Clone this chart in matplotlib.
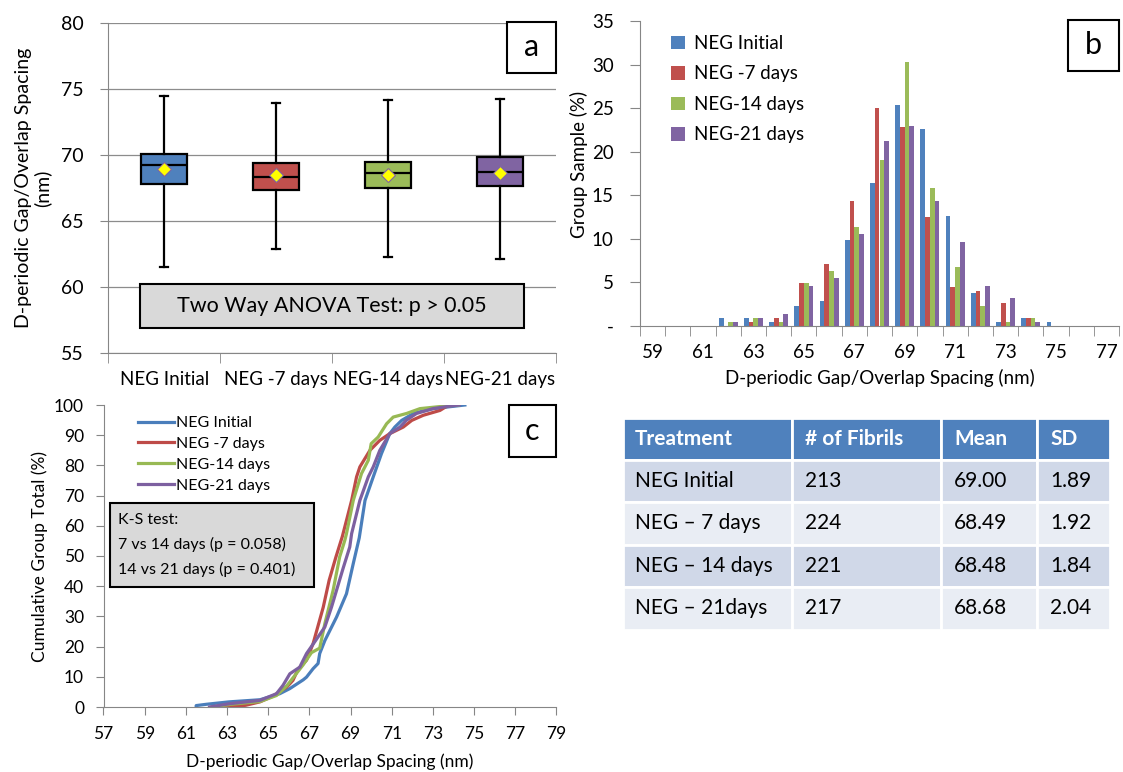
import matplotlib
matplotlib.use("Agg")
import matplotlib.pyplot as plt
from matplotlib.patches import Rectangle
from matplotlib.ticker import FuncFormatter

plt.rcParams['font.family'] = ['Lato', 'DejaVu Sans']

W, H = 1123, 772

groups = ["NEG Initial", "NEG -7 days", "NEG-14 days", "NEG-21 days"]
bar_colors = ["#4F81BD", "#C0504D", "#9BBB59", "#8064A2"]
line_colors = ["#4A7EBB", "#BE4B48", "#98B954", "#7D60A0"]

# panel a: box plot summary (nm)
box_whislo = [61.54, 62.90, 62.27, 62.15]
box_q1 = [67.83, 67.40, 67.50, 67.70]
box_med = [69.24, 68.33, 68.66, 68.74]
box_q3 = [70.13, 69.42, 69.49, 69.90]
box_whishi = [74.52, 73.94, 74.22, 74.27]
box_mean = [69.00, 68.49, 68.48, 68.68]

# panel b: percent of each group per 1 nm bin
bins = list(range(59, 78))
hist_initial = [0, 0, 0, 0.94, 0.94, 0.47, 2.35, 2.82, 9.86, 16.4, 25.4, 22.6, 12.6, 3.76, 0.47, 0.94, 0.47, 0, 0]
hist_7d = [0, 0, 0, 0, 0.45, 0.89, 4.91, 7.14, 14.29, 25.0, 22.8, 12.5, 4.46, 4.02, 2.68, 0.89, 0, 0, 0]
hist_14d = [0, 0, 0, 0.45, 0.90, 0.45, 4.98, 6.33, 11.31, 19.0, 30.3, 15.8, 6.79, 2.26, 0.45, 0.90, 0, 0, 0]
hist_21d = [0, 0, 0, 0.46, 0.92, 1.38, 4.61, 5.53, 10.6, 21.2, 23.0, 14.3, 9.68, 4.61, 3.23, 0.46, 0, 0, 0]

# panel c: cumulative distributions (nm, %)
cdf_initial_x = [61.5, 61.5, 62.0, 63.1, 64.6, 65.56, 66.05, 66.7, 66.86, 67.18, 67.42, 67.5, 67.75, 68.32, 68.8,
                 69.13, 69.42, 69.7, 70.1, 70.5, 70.9, 71.15, 71.48, 72.05, 73.0, 74.55]
cdf_initial_y = [0.0, 0.47, 0.9, 1.7, 2.4, 4.4, 6.1, 9.0, 9.9, 12.7, 14.4, 17.7, 22.0, 29.8, 37.5,
                 47.5, 56.0, 68.4, 76.2, 83.9, 90.5, 92.7, 94.9, 97.2, 98.8, 100]
cdf_7d_x = [62.9, 63.9, 64.6, 65.2, 65.9, 66.2, 66.45, 66.86, 67.18, 67.67, 67.96, 68.28, 68.6, 69.05, 69.29,
            69.45, 69.94, 70.42, 70.9, 71.56, 71.97, 72.53, 73.34, 73.67, 73.94]
cdf_7d_y = [0.0, 0.56, 1.7, 3.5, 6.6, 8.8, 12.5, 15.5, 21.0, 33.0, 42.0, 49.5, 56.5, 68.4, 76.2,
            79.5, 85.0, 88.3, 90.5, 92.7, 94.9, 96.6, 98.2, 99.6, 100]
cdf_14d_x = [62.27, 63.2, 64.6, 65.4, 65.9, 66.3, 66.7, 67.1, 67.5, 67.75, 68.15, 68.47, 68.72, 68.8, 69.13,
             69.53, 69.86, 70.0, 70.34, 70.75, 71.07, 71.72, 72.37, 73.5, 74.22]
cdf_14d_y = [0.0, 0.9, 1.8, 3.8, 7.0, 10.5, 14.0, 18.0, 19.5, 27.6, 38.6, 49.7, 55.2, 57.4, 68.4,
             77.3, 81.7, 87.2, 89.4, 93.8, 96.0, 97.2, 98.8, 99.6, 100]
cdf_21d_x = [62.15, 63.13, 64.6, 65.4, 65.72, 66.05, 66.53, 66.86, 67.3, 67.75, 68.07, 68.64, 68.96, 69.05,
             69.45, 69.86, 70.1, 70.42, 70.9, 71.4, 71.7, 72.2, 73.0, 73.8, 74.27]
cdf_21d_y = [0.0, 1.1, 2.2, 4.4, 7.2, 11.0, 13.2, 17.7, 22.0, 26.5, 33.0, 46.0, 53.0, 57.4,
             68.4, 76.2, 79.5, 85.0, 90.5, 92.7, 94.9, 97.2, 98.8, 99.6, 100]

# table
table_header = ["Treatment", "# of Fibrils", "Mean", "SD"]
table_treat = ["NEG Initial", "NEG \u2013 7 days", "NEG \u2013 14 days", "NEG \u2013 21days"]
table_n = ["213", "224", "221", "217"]
table_mean = ["69.00", "68.49", "68.48", "68.68"]
table_sd = ["1.89", "1.92", "1.84", "2.04"]

GRAY = "#868686"


def axes_rect(x0, y0, x1, y1):
    return [x0 / W, 1 - y1 / H, (x1 - x0) / W, (y1 - y0) / H]


fig = plt.figure(figsize=(W / 100, H / 100), dpi=100)

# ---------------- panel a ----------------
ax_a = fig.add_axes(axes_rect(108.4, 23.3, 556, 353.3))
stats = []
for i in range(4):
    stats.append(dict(med=box_med[i], q1=box_q1[i], q3=box_q3[i], whislo=box_whislo[i],
                      whishi=box_whishi[i], mean=box_mean[i], fliers=[]))
bp = ax_a.bxp(stats, positions=range(4), widths=0.41, patch_artist=True, showmeans=True, capwidths=0.07,
              boxprops=dict(linewidth=1.6, edgecolor="black"),
              medianprops=dict(color="black", linewidth=1.6),
              whiskerprops=dict(color="black", linewidth=1.6),
              capprops=dict(color="black", linewidth=1.6),
              meanprops=dict(marker="D", markerfacecolor="#FFFF00", markeredgecolor="#8064A2",
                             markersize=7.5, markeredgewidth=0.8))
for patch, c in zip(bp["boxes"], bar_colors):
    patch.set_facecolor(c)
ax_a.set_xlim(-0.5, 3.5)
ax_a.set_ylim(55, 80)
ax_a.set_yticks(range(55, 81, 5))
ax_a.grid(axis="y", color="#8c8c8c", linewidth=0.9)
ax_a.set_axisbelow(True)
ax_a.set_xticks(range(4))
ax_a.set_xticklabels(groups)
ax_a.set_xticks([-0.5, 0.5, 1.5, 2.5, 3.5], minor=True)
ax_a.tick_params(axis="x", which="major", length=0, pad=13, labelsize=13.5)
ax_a.tick_params(axis="x", which="minor", length=7, color=GRAY, direction="out")
ax_a.tick_params(axis="y", length=6, color=GRAY, pad=12, labelsize=14)
for s in ["top", "right"]:
    ax_a.spines[s].set_visible(False)
for s in ["left", "bottom"]:
    ax_a.spines[s].set_color(GRAY)
ax_a.set_ylabel("D-periodic Gap/Overlap Spacing\n(nm)", fontsize=14, va="center", linespacing=1.15)
ax_a.yaxis.set_label_coords(-0.168, 0.5)

# ---------------- panel b ----------------
ax_b = fig.add_axes(axes_rect(640, 21, 1119, 326))
pos = list(range(len(bins)))
bw = 0.187
series_b = [hist_initial, hist_7d, hist_14d, hist_21d]
for k, (vals, c, lab) in enumerate(zip(series_b, bar_colors, groups)):
    ax_b.bar([p + (k - 1.5) * bw for p in pos], vals, width=bw, color=c, label=lab)
ax_b.set_xlim(-0.5, len(bins) - 0.5)
ax_b.set_ylim(0, 35)
ax_b.set_yticks(range(0, 36, 5))
ax_b.yaxis.set_major_formatter(FuncFormatter(lambda v, p: "-" if v == 0 else f"{v:.0f}"))
ax_b.set_xticks(pos[::2])
ax_b.set_xticklabels([str(b) for b in bins[::2]])
ax_b.set_xticks([p - 0.5 for p in pos] + [pos[-1] + 0.5], minor=True)
ax_b.tick_params(axis="x", which="major", length=0, pad=13, labelsize=13.5)
ax_b.tick_params(axis="x", which="minor", length=7, color=GRAY, direction="out")
ax_b.tick_params(axis="y", length=7, color=GRAY, pad=12, labelsize=13.5)
for s in ["top", "right"]:
    ax_b.spines[s].set_visible(False)
for s in ["left", "bottom"]:
    ax_b.spines[s].set_color(GRAY)
ax_b.set_ylabel("Group Sample (%)", fontsize=13.5, va="center")
ax_b.yaxis.set_label_coords(-0.128, 0.53)
ax_b.set_xlabel("D-periodic Gap/Overlap Spacing (nm)", fontsize=13.5, va="center")
ax_b.xaxis.set_label_coords(0.5, -0.17)
ax_b.legend(loc="upper left", bbox_to_anchor=(0.045, 0.985), frameon=False, fontsize=13.5,
            handlelength=0.75, handleheight=0.75, handletextpad=0.5, labelspacing=0.72, borderpad=0)

# ---------------- panel c ----------------
ax_c = fig.add_axes(axes_rect(103.5, 405, 556.5, 707))
cdf_series = [(cdf_initial_x, cdf_initial_y), (cdf_7d_x, cdf_7d_y), (cdf_14d_x, cdf_14d_y), (cdf_21d_x, cdf_21d_y)]
for (xs, ys), c, lab in zip(cdf_series, line_colors, groups):
    ax_c.plot(xs, ys, color=c, linewidth=2.3, label=lab)
ax_c.set_xlim(57, 79)
ax_c.set_ylim(0, 100)
ax_c.set_xticks(range(57, 80, 2))
ax_c.set_yticks(range(0, 101, 10))
ax_c.tick_params(axis="both", length=6, color=GRAY, labelsize=12.5)
ax_c.tick_params(axis="x", pad=8)
ax_c.tick_params(axis="y", pad=8)
for s in ["top", "right"]:
    ax_c.spines[s].set_visible(False)
for s in ["left", "bottom"]:
    ax_c.spines[s].set_color(GRAY)
ax_c.set_ylabel("Cumulative Group Total (%)", fontsize=12.5, va="center")
ax_c.yaxis.set_label_coords(-0.14, 0.5)
ax_c.set_xlabel("D-periodic Gap/Overlap Spacing (nm)", fontsize=12.5, va="center")
ax_c.xaxis.set_label_coords(0.5, -0.182)
ax_c.legend(loc="upper left", bbox_to_anchor=(0.058, 0.99), frameon=False, fontsize=11.5,
            handlelength=2.3, handletextpad=0.1, labelspacing=0.42, borderpad=0)

# ---------------- overlay: labels, text boxes, table ----------------
ov = fig.add_axes([0, 0, 1, 1], zorder=10)
ov.set_xlim(0, W)
ov.set_ylim(H, 0)
ov.axis("off")
ov.patch.set_alpha(0)


def text_box(x0, y0, x1, y1, fc):
    ov.add_patch(Rectangle((x0, y0), x1 - x0, y1 - y0, facecolor=fc, edgecolor="black", linewidth=1.5))


for (x0, y0, x1, y1), letter in [((507, 22, 555.5, 73), "a"), ((1068, 20, 1118.5, 70.5), "b"),
                                 ((508.5, 405, 556, 456.5), "c")]:
    text_box(x0, y0, x1, y1, "white")
    ov.text((x0 + x1) / 2, (y0 + y1) / 2, letter, fontsize=22, ha="center", va="center")

text_box(140, 284, 523.5, 328.3, "#D9D9D9")
ov.text(331.8, 306.5, "Two Way ANOVA Test: p > 0.05", fontsize=15.5, ha="center", va="center")

text_box(110.4, 503.3, 314, 586.7, "#D9D9D9")
for yy, t in zip([520, 544.5, 569], ["K-S test:", "7 vs 14 days (p = 0.058)", "14 vs 21 days (p = 0.401)"]):
    ov.text(117.5, yy, t, fontsize=11.5, ha="left", va="center")

col_edges = [622.7, 791.7, 940.7, 1036.7, 1110]
row_edges = [418, 459.7, 502, 544.5, 587, 629.5]
text_x = [635, 805, 954, 1050]
table_rows = [table_header] + [list(r) for r in zip(table_treat, table_n, table_mean, table_sd)]
row_fills = ["#4F81BD", "#D0D8E8", "#E9EDF4", "#D0D8E8", "#E9EDF4"]
for r, row in enumerate(table_rows):
    y0, y1 = row_edges[r], row_edges[r + 1]
    for ci, val in enumerate(row):
        x0, x1 = col_edges[ci], col_edges[ci + 1]
        ov.add_patch(Rectangle((x0, y0), x1 - x0, y1 - y0, facecolor=row_fills[r], edgecolor="white",
                               linewidth=2))
        if r == 0:
            ov.text(text_x[ci], (y0 + y1) / 2, val, fontsize=15, fontweight="bold", color="white",
                    ha="left", va="center")
        else:
            ov.text(text_x[ci], (y0 + y1) / 2, val, fontsize=15, color="black", ha="left", va="center")

fig.savefig("out.png", dpi=100)
